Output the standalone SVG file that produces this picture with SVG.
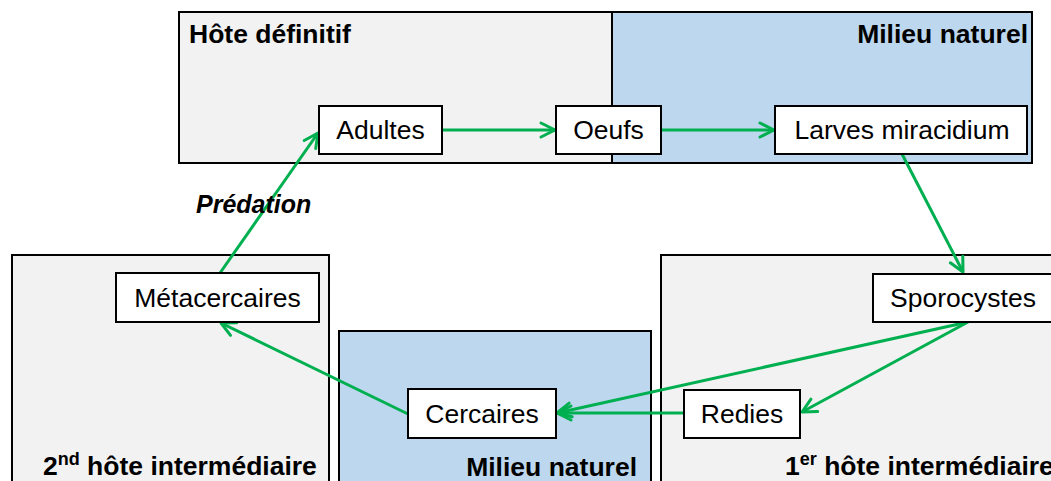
<svg xmlns="http://www.w3.org/2000/svg" width="1051" height="481" viewBox="0 0 1051 481">
<style>
.gray{fill:#F2F2F2;stroke:#000;stroke-width:2}
.blue{fill:#BDD7EE;stroke:#000;stroke-width:2}
.node{fill:#fff;stroke:#000;stroke-width:2}
.t{font-family:"Liberation Sans",Arial,sans-serif;font-size:26.5px;fill:#000}
.b{font-family:"Liberation Sans",Arial,sans-serif;font-size:26.5px;font-weight:bold;fill:#000}
.c{fill:none;stroke:#00B050;stroke-width:3;marker-end:url(#ah)}
</style>
<defs>
<marker id="ah" markerUnits="userSpaceOnUse" markerWidth="20" markerHeight="20" refX="15" refY="8" orient="auto" overflow="visible">
<path d="M1,1 L15,8 L1,15" fill="none" stroke="#00B050" stroke-width="3" stroke-linecap="round" stroke-linejoin="round"/>
</marker>
</defs>
<g id="containers">
<g id="hote-definitif">
<rect class="gray" x="179" y="12" width="433" height="151"/>
<text class="b" x="189" y="43">Hôte définitif</text>
</g>
<g id="milieu-naturel-haut">
<rect class="blue" x="612" y="12" width="420" height="151"/>
<text class="b" x="1028" y="43" text-anchor="end">Milieu naturel</text>
</g>
<g id="hote-2">
<rect class="gray" x="12" y="255" width="317" height="240"/>
<text class="b" x="43" y="475">2<tspan font-size="18" dy="-10">nd</tspan><tspan dy="10"> hôte intermédiaire</tspan></text>
</g>
<g id="milieu-naturel-bas">
<rect class="blue" x="339" y="331" width="312" height="170"/>
<text class="b" x="637" y="476" text-anchor="end">Milieu naturel</text>
</g>
<g id="hote-1">
<rect class="gray" x="661" y="255" width="420" height="240"/>
<text class="b" x="785" y="475">1<tspan font-size="18" dy="-10">er</tspan><tspan dy="10"> hôte intermédiaire</tspan></text>
</g>
</g>
<g id="connectors">
<line class="c" x1="442" y1="130" x2="555" y2="130"/>
<line class="c" x1="661" y1="130" x2="774" y2="130"/>
<line class="c" x1="902" y1="154" x2="963" y2="272"/>
<line class="c" x1="968" y1="322" x2="802" y2="412"/>
<line class="c" x1="968" y1="322" x2="557" y2="413"/>
<line class="c" x1="684" y1="413" x2="557" y2="413"/>
<line class="c" x1="408" y1="414" x2="221" y2="323"/>
<line class="c" x1="220" y1="273" x2="318" y2="133"/>
<text x="196" y="213" font-family="Liberation Sans,Arial,sans-serif" font-size="25" font-weight="bold" font-style="italic">Prédation</text>
</g>
<g id="adultes">
<rect class="node" x="319" y="106" width="123" height="48"/>
<text class="t" x="380.5" y="139" text-anchor="middle">Adultes</text>
</g>
<g id="oeufs">
<rect class="node" x="556" y="106" width="105" height="48"/>
<text class="t" x="608.5" y="139" text-anchor="middle">Oeufs</text>
</g>
<g id="larves">
<rect class="node" x="775" y="106" width="252" height="48"/>
<text class="t" x="902" y="139" text-anchor="middle">Larves miracidium</text>
</g>
<g id="sporocystes">
<rect class="node" x="873" y="274" width="180" height="48"/>
<text class="t" x="963" y="307" text-anchor="middle">Sporocystes</text>
</g>
<g id="redies">
<rect class="node" x="684" y="390" width="116" height="48"/>
<text class="t" x="742" y="423" text-anchor="middle">Redies</text>
</g>
<g id="cercaires">
<rect class="node" x="408" y="389" width="148" height="49"/>
<text class="t" x="482" y="423" text-anchor="middle">Cercaires</text>
</g>
<g id="metacercaires">
<rect class="node" x="116" y="273" width="203" height="49"/>
<text class="t" x="217.5" y="307" text-anchor="middle">Métacercaires</text>
</g>
</svg>
